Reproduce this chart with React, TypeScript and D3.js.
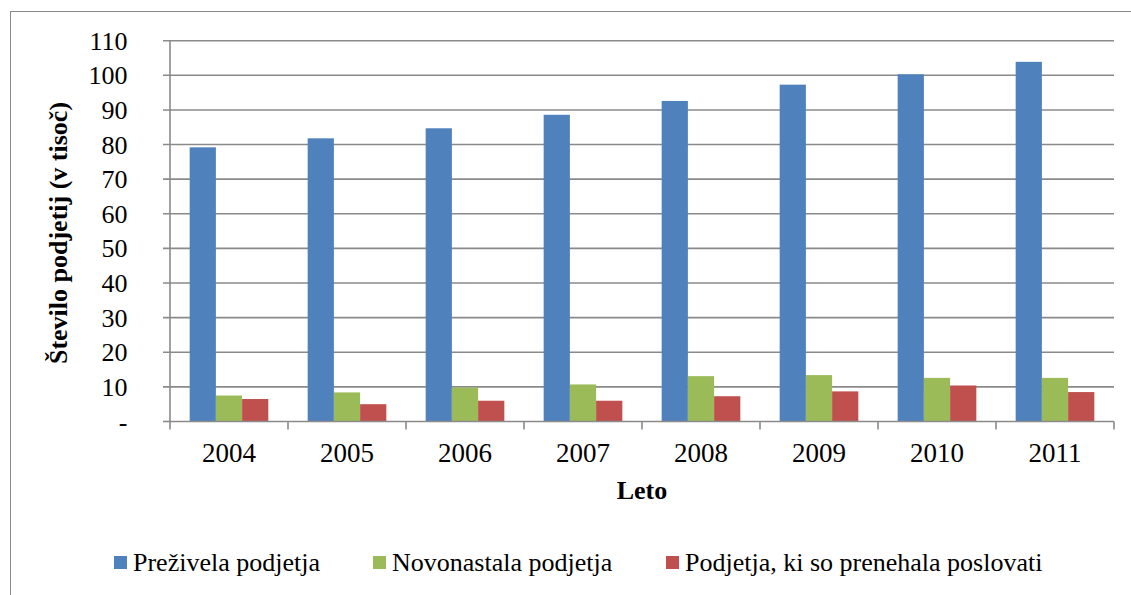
import React from "react";
import * as d3 from "d3";

const years = ["2004", "2005", "2006", "2007", "2008", "2009", "2010", "2011"];
const seriesNames = ["Preživela podjetja", "Novonastala podjetja", "Podjetja, ki so prenehala poslovati"];
const surviving = [79.2, 81.8, 84.7, 88.6, 92.6, 97.3, 100.3, 103.9];
const newborn = [7.5, 8.4, 9.8, 10.7, 13.1, 13.4, 12.6, 12.6];
const closed = [6.5, 5.0, 6.0, 6.0, 7.3, 8.7, 10.4, 8.5];
const yTicks = [0, 10, 20, 30, 40, 50, 60, 70, 80, 90, 100, 110];
const colors = ["#4F81BD", "#9BBB59", "#C0504D"];

const W = 1131;
const H = 595;
const FONT = "Liberation Serif, Times New Roman, serif";

export default function App() {
  const left = 170;
  const right = 1114;
  const top = 40.7;
  const bottom = 421.5;
  const x = d3.scaleBand<string>().domain(years).range([left, right]).padding(0);
  const y = d3.scaleLinear().domain([0, 110]).range([bottom, top]);
  const bw = x.bandwidth();
  const gap = (bw * 1.5) / 4.5;
  const inner = d3.scaleBand<number>().domain([0, 1, 2]).range([gap / 2, bw - gap / 2]).padding(0);
  const series = [surviving, newborn, closed];
  const legendX = [114, 373, 666];
  const grid = "#8a8a8a";
  const tf = { fontFamily: FONT };

  return (
    <svg width={W} height={H} style={{ position: "absolute", left: 0, top: 0 }}>
      <rect x={0} y={0} width={W} height={H} fill="#fff" />
      <rect x={10.5} y={11.5} width={1140} height={620} fill="none" stroke="#8a8a8a" strokeWidth={1} />
      {yTicks.map((t) => (
        <g key={t}>
          <line x1={left - 7} x2={t === 0 ? left : right} y1={y(t)} y2={y(t)} stroke={grid} strokeWidth={1.6} />
          <text x={127.5} y={y(t) + 9} textAnchor="end" fontSize={26} fill="#000" style={tf}>
            {t === 0 ? "-" : String(t)}
          </text>
        </g>
      ))}
      {series.map((vals, si) =>
        years.map((yr, i) => (
          <rect
            key={si + "-" + yr}
            x={(x(yr) as number) + (inner(si) as number)}
            y={y(vals[i])}
            width={inner.bandwidth()}
            height={y(0) - y(vals[i])}
            fill={colors[si]}
          />
        ))
      )}
      <line x1={left} x2={left} y1={top} y2={bottom} stroke={grid} strokeWidth={1.6} />
      <line x1={left} x2={right} y1={bottom} y2={bottom} stroke={grid} strokeWidth={1.6} />
      {[...years.map((yr) => x(yr) as number), right].map((px, i) => (
        <line key={i} x1={px} x2={px} y1={bottom} y2={bottom + 8} stroke={grid} strokeWidth={1.6} />
      ))}
      {years.map((yr) => (
        <text key={yr} x={(x(yr) as number) + bw / 2} y={462} textAnchor="middle" fontSize={27} fill="#000" style={tf}>
          {yr}
        </text>
      ))}
      <text x={(left + right) / 2} y={499} textAnchor="middle" fontSize={26} fontWeight="bold" fill="#000" style={tf}>
        Leto
      </text>
      <text
        transform={`translate(67, 233) rotate(-90)`}
        textAnchor="middle"
        fontSize={26}
        fontWeight="bold"
        fill="#000"
        style={tf}
      >
        Število podjetij (v tisoč)
      </text>
      {seriesNames.map((name, i) => (
        <g key={name} transform={`translate(${legendX[i]}, 0)`}>
          <rect x={0} y={556} width={13} height={13} fill={colors[i]} />
          <text x={19} y={571} fontSize={26} fill="#000" style={tf}>
            {name}
          </text>
        </g>
      ))}
    </svg>
  );
}
